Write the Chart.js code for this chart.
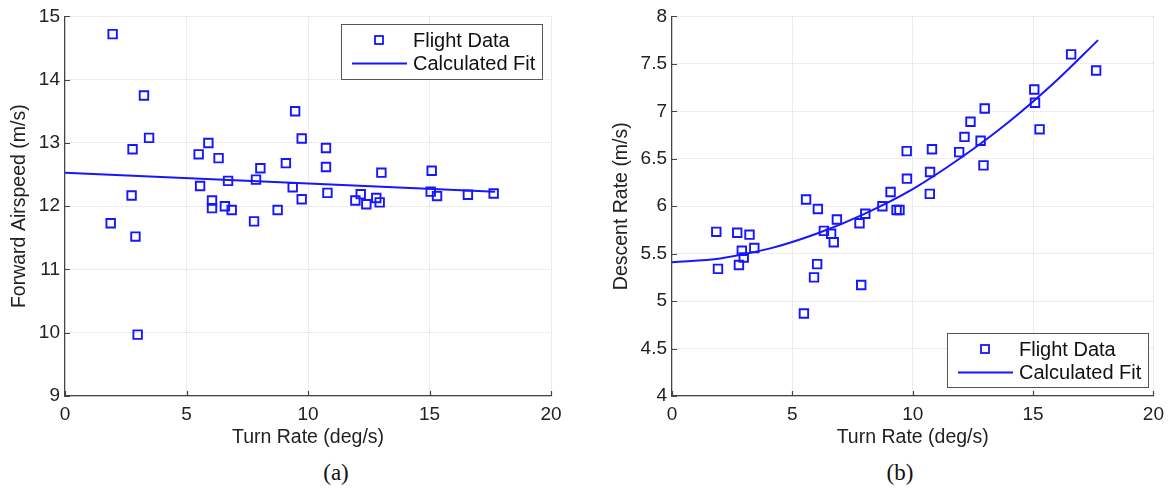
<!DOCTYPE html>
<html>
<head>
<meta charset="utf-8">
<script src="https://cdn.jsdelivr.net/npm/chart.js@4/dist/chart.umd.min.js"></script>
<style>
  html, body { margin: 0; padding: 0; background: #fff; }
  #wrap { position: relative; width: 1171px; height: 497px; overflow: hidden; }
  canvas { position: absolute; top: 0; }
  #left { left: 0; }
  #right { left: 585px; }
  .caption {
    position: absolute; top: 460px; width: 60px; margin-left: -30px;
    text-align: center; font: 23px "Liberation Serif", "Times New Roman", serif; color: #111;
  }
</style>
</head>
<body>
<div id="wrap">
  <canvas id="left" width="585" height="460"></canvas>
  <canvas id="right" width="586" height="460"></canvas>
  <div class="caption" style="left:336px">(a)</div>
  <div class="caption" style="left:900px">(b)</div>
</div>
<script>
/* ── Flight data: airspeed vs turn rate ── */
const turnRateA = [1.96, 3.25, 3.46, 2.78, 2.74, 1.88, 2.90, 2.99, 5.50, 5.90,
                   6.32, 5.56, 6.05, 6.05, 6.58, 6.86, 6.71, 7.78, 7.86, 8.04,
                   8.75, 9.09, 9.37, 9.47, 9.74, 9.74, 10.74, 10.74, 10.80, 11.95,
                   12.17, 12.40, 12.81, 12.95, 13.02, 15.09, 15.05, 15.31, 16.58, 17.64];
const airspeed = [14.72, 13.75, 13.08, 12.90, 12.17, 11.73, 11.52, 9.97, 12.82, 13.00,
                  12.76, 12.32, 12.09, 11.97, 12.00, 11.94, 12.40, 11.76, 12.42, 12.60,
                  11.94, 12.68, 12.30, 13.50, 13.07, 12.11, 12.92, 12.62, 12.21, 12.09,
                  12.19, 12.03, 12.13, 12.06, 12.53, 12.56, 12.23, 12.16, 12.18, 12.20];
const fitTurnA = [0, 17.7];
const fitAirspeed = [12.53, 12.23];

/* ── Flight data: descent rate vs turn rate ── */
const turnRateB = [1.84, 1.91, 2.71, 2.78, 2.90, 2.98, 3.22, 3.42, 5.48, 5.57,
                   5.90, 6.03, 6.06, 6.31, 6.61, 6.72, 6.85, 7.79, 7.86, 8.03,
                   8.74, 9.08, 9.33, 9.45, 9.75, 9.76, 10.71, 10.72, 10.80, 11.93,
                   12.15, 12.40, 12.82, 12.94, 12.99, 15.05, 15.08, 15.27, 16.58, 17.62];
const descentRate = [5.73, 5.34, 5.72, 5.38, 5.53, 5.46, 5.70, 5.56, 4.87, 6.07,
                     5.25, 5.39, 5.97, 5.74, 5.71, 5.62, 5.86, 5.82, 5.17, 5.92,
                     6.00, 6.15, 5.96, 5.96, 6.58, 6.29, 6.13, 6.36, 6.60, 6.57,
                     6.73, 6.89, 6.69, 6.43, 7.03, 7.23, 7.09, 6.81, 7.60, 7.43];
const fitTurnB = [0, 2, 4, 6, 8, 10, 12, 14, 16, 17.7];
const fitDescent = [5.41, 5.45, 5.55, 5.71, 5.92, 6.18, 6.51, 6.89, 7.33, 7.75];

const xTicks = [0, 5, 10, 15, 20];

const BLUE = 'rgb(22,22,255)';
const AXIS = '#444';
const GRID = '#d9d9d9';
const SANS = '"Liberation Sans", Arial, Helvetica, sans-serif';

function toPoints(xs, ys) {
  return xs.map((x, i) => ({ x: x, y: ys[i] }));
}

/* inward tick marks along the left and bottom axes */
const innerTicks = {
  id: 'innerTicks',
  afterDraw(chart) {
    const { ctx, chartArea: a, scales } = chart;
    ctx.save();
    ctx.strokeStyle = AXIS;
    ctx.lineWidth = 1.2;
    ctx.beginPath();
    scales.x.ticks.forEach(t => {
      const px = Math.round(scales.x.getPixelForValue(t.value)) + 0.5;
      ctx.moveTo(px, a.bottom);
      ctx.lineTo(px, a.bottom - 5);
    });
    scales.y.ticks.forEach(t => {
      const py = Math.round(scales.y.getPixelForValue(t.value)) + 0.5;
      ctx.moveTo(a.left, py);
      ctx.lineTo(a.left + 5, py);
    });
    ctx.stroke();
    ctx.restore();
  }
};

/* boxed legend placed inside the plot */
const boxLegend = {
  id: 'boxLegend',
  afterDraw(chart, args, opts) {
    const { ctx } = chart;
    const b = opts.box;
    const sets = chart.data.datasets;
    ctx.save();
    ctx.fillStyle = '#fff';
    ctx.fillRect(b.x, b.y, b.w, b.h);
    ctx.strokeStyle = '#555';
    ctx.lineWidth = 1;
    ctx.strokeRect(b.x + 0.5, b.y + 0.5, b.w, b.h);

    const row1 = b.y + 16, row2 = b.y + 39.5;
    ctx.strokeStyle = BLUE;
    ctx.lineWidth = 1.8;
    ctx.strokeRect(b.x + 34, row1 - 4, 8, 8);
    ctx.lineWidth = 2;
    ctx.beginPath();
    ctx.moveTo(b.x + 11, row2);
    ctx.lineTo(b.x + 66, row2);
    ctx.stroke();

    ctx.fillStyle = '#111';
    ctx.font = '20px ' + SANS;
    ctx.textBaseline = 'middle';
    ctx.textAlign = 'left';
    ctx.fillText(sets[0].label, b.x + 72, row1 + 1);
    ctx.fillText(sets[1].label, b.x + 72, row2 + 1);
    ctx.restore();
  }
};

function makeChart(canvasId, cfg) {
  return new Chart(document.getElementById(canvasId), {
    type: 'scatter',
    data: {
      datasets: [
        {
          label: 'Flight Data',
          data: toPoints(cfg.xs, cfg.ys),
          showLine: false,
          pointStyle: 'rect',
          pointRadius: 6,
          pointHoverRadius: 6,
          pointBorderWidth: 1.9,
          borderColor: BLUE,
          backgroundColor: 'rgba(0,0,0,0)'
        },
        {
          label: 'Calculated Fit',
          data: toPoints(cfg.fitX, cfg.fitY),
          showLine: true,
          pointRadius: 0,
          borderWidth: 2,
          borderColor: BLUE,
          backgroundColor: BLUE,
          cubicInterpolationMode: 'monotone'
        }
      ]
    },
    options: {
      responsive: false,
      animation: false,
      devicePixelRatio: 1,
      layout: { padding: { top: 15, right: cfg.padRight, left: 0, bottom: 0 } },
      plugins: {
        legend: { display: false },
        tooltip: { enabled: false },
        boxLegend: { box: cfg.legendBox }
      },
      scales: {
        x: {
          type: 'linear', min: 0, max: 20,
          afterBuildTicks: s => { s.ticks = xTicks.map(v => ({ value: v })); },
          afterFit: s => { s.height = 64; },
          grid: { color: GRID, lineWidth: 1, drawTicks: false },
          border: { display: true, color: AXIS, width: 1.2, dash: [1, 1] },
          ticks: { color: '#222', padding: 7, font: { family: SANS, size: 19 } },
          title: { display: true, text: 'Turn Rate (deg/s)', color: '#222',
                   font: { family: SANS, size: 19.5 }, padding: { top: 0, bottom: 11 } }
        },
        y: {
          min: cfg.yMin, max: cfg.yMax,
          afterBuildTicks: s => { s.ticks = cfg.yTicks.map(v => ({ value: v })); },
          afterFit: s => { s.width = cfg.yWidth; },
          grid: { color: GRID, lineWidth: 1, drawTicks: false },
          border: { display: true, color: AXIS, width: 1.2, dash: [1, 1] },
          ticks: { color: '#222', padding: 5, font: { family: SANS, size: 19 },
                   callback: v => String(v) },
          title: { display: true, text: cfg.yTitle, color: '#222',
                   font: { family: SANS, size: 19.5 }, padding: { top: cfg.yTitlePad, bottom: 0 } }
        }
      }
    },
    plugins: [innerTicks, boxLegend]
  });
}

makeChart('left', {
  xs: turnRateA, ys: airspeed, fitX: fitTurnA, fitY: fitAirspeed,
  yMin: 9, yMax: 15, yTicks: [9, 10, 11, 12, 13, 14, 15],
  yTitle: 'Forward Airspeed (m/s)', yWidth: 65, yTitlePad: 8, padRight: 34,
  legendBox: { x: 341, y: 24, w: 201, h: 55 }
});

makeChart('right', {
  xs: turnRateB, ys: descentRate, fitX: fitTurnB, fitY: fitDescent,
  yMin: 4, yMax: 8, yTicks: [4, 4.5, 5, 5.5, 6, 6.5, 7, 7.5, 8],
  yTitle: 'Descent Rate (m/s)', yWidth: 87, yTitlePad: 25, padRight: 14,
  legendBox: { x: 362, y: 333, w: 201, h: 54 }
});
</script>
</body>
</html>
